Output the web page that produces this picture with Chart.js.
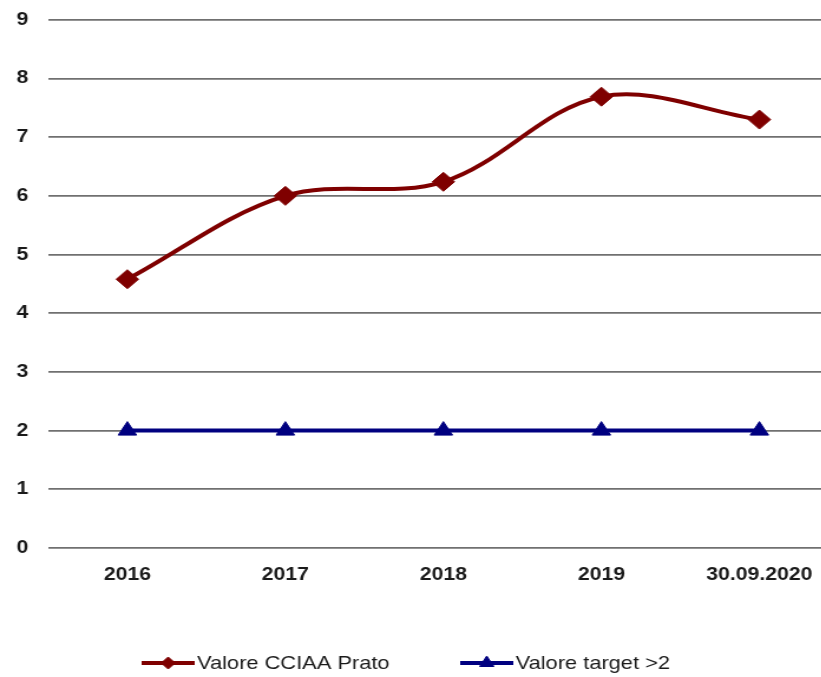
<!DOCTYPE html>
<html>
<head>
<meta charset="utf-8">
<script src="https://cdn.jsdelivr.net/npm/chart.js@4/dist/chart.umd.min.js"></script>
<style>
  html, body { margin: 0; padding: 0; background: #fff; overflow: hidden; width: 821px; height: 677px; }
  #wrap { position: absolute; left: 0; top: -8px; width: 721px; height: 685px; transform: scaleX(1.18); transform-origin: 0 0; }
</style>
</head>
<body>
<div id="wrap"><canvas id="c" width="721" height="685"></canvas></div>
<script>
const categories = ['2016', '2017', '2018', '2019', '30.09.2020'];
const valoreCCIAA = [4.58, 6.0, 6.24, 7.69, 7.3];
const valoreTarget = [2, 2, 2, 2, 2];
const seriesLabels = ['Valore CCIAA Prato', 'Valore target >2'];
const yMin = 0, yMax = 9, yStep = 1;

const RED = '#7f0000';
const BLUE = '#000080';
const FONT = '"Liberation Sans", Arial, sans-serif';

new Chart(document.getElementById('c'), {
  type: 'line',
  data: {
    labels: categories,
    datasets: [
      {
        label: seriesLabels[0],
        data: valoreCCIAA,
        borderColor: RED,
        backgroundColor: RED,
        borderWidth: 4,
        pointStyle: 'rectRot',
        pointRadius: 9.5,
        pointBorderWidth: 1,
        pointBackgroundColor: RED,
        pointBorderColor: RED,
        tension: 0.35,
        fill: false
      },
      {
        label: seriesLabels[1],
        data: valoreTarget,
        borderColor: BLUE,
        backgroundColor: BLUE,
        borderWidth: 4,
        pointStyle: 'triangle',
        pointRadius: 9,
        pointBorderWidth: 1,
        pointBackgroundColor: BLUE,
        pointBorderColor: BLUE,
        tension: 0,
        fill: false
      }
    ]
  },
  options: {
    responsive: false,
    animation: false,
    devicePixelRatio: 1,
    layout: { padding: { top: 12, bottom: 89, left: 0, right: 0 } },
    plugins: {
      legend: { display: false },
      tooltip: { enabled: false }
    },
    scales: {
      x: {
        offset: true,
        grid: { display: false, drawTicks: false },
        border: { display: false },
        ticks: {
          padding: 16,
          color: '#1a1a1a',
          font: { family: FONT, size: 18, weight: 'bold' }
        },
        afterFit(s) { s.height = 40; }
      },
      y: {
        min: yMin,
        max: yMax,
        grid: { color: '#707070', lineWidth: 1.8, drawTicks: false },
        border: { display: false },
        ticks: {
          stepSize: yStep,
          padding: 17,
          color: '#1a1a1a',
          font: { family: FONT, size: 18, weight: 'bold' }
        },
        afterFit(s) { s.width = 41; }
      }
    }
  },
  plugins: [{
    id: 'lineLegend',
    afterDraw(chart) {
      const ctx = chart.ctx;
      const y = 671;
      const pos = [[120, 165], [390, 435]];
      ctx.save();
      chart.data.datasets.forEach((ds, i) => {
        const [x0, x1] = pos[i];
        ctx.strokeStyle = ds.borderColor;
        ctx.lineWidth = 4;
        ctx.beginPath();
        ctx.moveTo(x0, y);
        ctx.lineTo(x1, y);
        ctx.stroke();
        ctx.fillStyle = ds.backgroundColor;
        ctx.strokeStyle = ds.borderColor;
        ctx.lineWidth = 1;
        Chart.helpers.drawPoint(ctx, { pointStyle: ds.pointStyle, radius: ds.pointStyle === 'triangle' ? 7 : 6, rotation: 0, borderWidth: 1 }, (x0 + x1) / 2, y);
        ctx.fillStyle = '#1a1a1a';
        ctx.font = '18.5px ' + FONT;
        ctx.textAlign = 'left';
        ctx.textBaseline = 'middle';
        ctx.fillText(ds.label, x1 + 2, y + 1);
      });
      ctx.restore();
    }
  }]
});
</script>
</body>
</html>
